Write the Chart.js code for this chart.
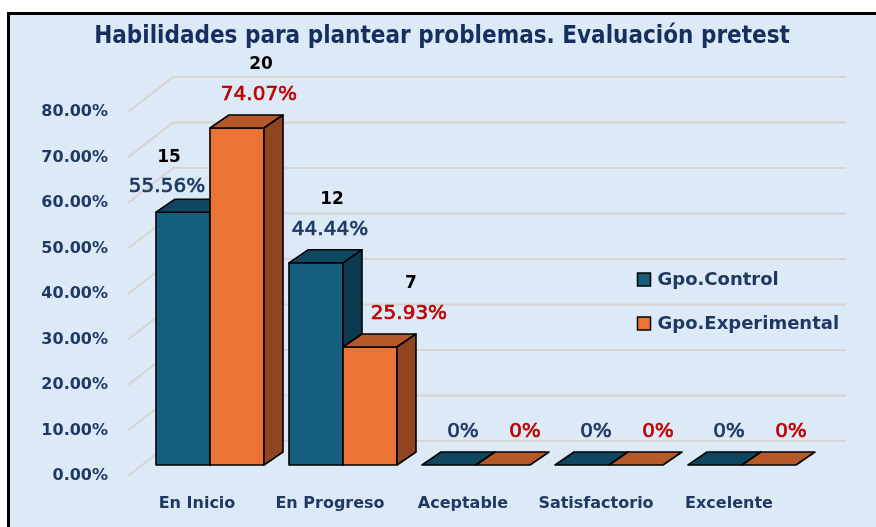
<!DOCTYPE html>
<html>
<head>
<meta charset="utf-8">
<script src="https://cdn.jsdelivr.net/npm/chart.js@4.4.1/dist/chart.umd.min.js"></script>
<style>
  html, body { margin: 0; padding: 0; background: #fff; }
  #wrap { width: 876px; height: 527px; }
</style>
</head>
<body>
<div id="wrap"><canvas id="chart1" width="876" height="527"></canvas></div>
<script>
const ctx1 = document.getElementById('chart1').getContext('2d');

// datos
const categories = ['En Inicio', 'En Progreso', 'Aceptable', 'Satisfactorio', 'Excelente'];
const control_pct = [55.56, 44.44, 0, 0, 0];
const experimental_pct = [74.07, 25.93, 0, 0, 0];
const control_count = [15, 12, 0, 0, 0];
const experimental_count = [20, 7, 0, 0, 0];
const y_ticks = [0, 10, 20, 30, 40, 50, 60, 70, 80];
const title_text = 'Habilidades para plantear problemas. Evaluación pretest';

const NAVY = '#1F3864';
const DX = 19, DY = -13; // profundidad de las barras

const faces = [
  { front: '#165E7E', top: '#0F4760', side: '#0C3A50', text: NAVY },      // control
  { front: '#EB7333', top: '#B5592A', side: '#914520', text: '#C00000' }, // experimental
];

function fmtPct(v) {
  return v === 0 ? '0%' : v.toFixed(2) + '%';
}

function poly(ctx, pts, fill) {
  ctx.beginPath();
  ctx.moveTo(pts[0][0], pts[0][1]);
  for (let i = 1; i < pts.length; i++) ctx.lineTo(pts[i][0], pts[i][1]);
  ctx.closePath();
  ctx.fillStyle = fill;
  ctx.fill();
  ctx.stroke();
}

// fondo, marco y titulo
const framePlugin = {
  id: 'frame',
  beforeDraw(chart) {
    const c = chart.ctx;
    c.save();
    c.fillStyle = '#ffffff';
    c.fillRect(0, 0, chart.width, chart.height);
    c.fillStyle = '#DCE9F6';
    c.fillRect(8, 13, chart.width, chart.height);
    c.fillStyle = '#000000';
    c.fillRect(7, 12, chart.width, 3);
    c.fillRect(7, 12, 3, chart.height);
    c.font = 'bold 24px "Liberation Sans Narrow", "DejaVu Sans Condensed", sans-serif';
    c.fillStyle = '#172F5E';
    c.textAlign = 'center';
    c.textBaseline = 'middle';
    c.fillText(title_text, 442, 37);
    c.restore();
  },
};

// lineas de la pared (3D)
const wallPlugin = {
  id: 'wall',
  beforeDatasetsDraw(chart) {
    const c = chart.ctx, a = chart.chartArea, y = chart.scales.y;
    c.save();
    c.strokeStyle = '#D8D4CF';
    c.lineWidth = 2;
    y_ticks.forEach((v) => {
      const yb = y.getPixelForValue(v);
      c.beginPath();
      c.moveTo(a.left - 15.5, yb + 11);
      c.lineTo(a.left + 29.5, yb - 24);
      c.lineTo(a.right + 37.5, yb - 24);
      c.stroke();
    });
    c.restore();
  },
};

// barras en 3D + etiquetas
const boxPlugin = {
  id: 'box3d',
  afterDatasetsDraw(chart) {
    const c = chart.ctx;
    const metas = [chart.getDatasetMeta(0), chart.getDatasetMeta(1)];
    c.save();
    c.strokeStyle = '#000000';
    c.lineWidth = 1.6;
    c.lineJoin = 'round';
    for (let i = 0; i < categories.length; i++) {
      for (let d = 0; d < 2; d++) {
        const bar = metas[d].data[i];
        const f = faces[d];
        const l = bar.x - bar.width / 2, r = bar.x + bar.width / 2;
        const t = bar.y, b = bar.base;
        if (b - t > 0.5) poly(c, [[l, t], [r, t], [r, b], [l, b]], f.front);
        poly(c, [[l, t], [l + DX, t + DY], [r + DX, t + DY], [r, t]], f.top);
        if (b - t > 0.5) poly(c, [[r, t], [r + DX, t + DY], [r + DX, b + DY], [r, b]], f.side);
      }
    }
    c.restore();

    // etiquetas de datos
    c.save();
    c.textAlign = 'center';
    c.textBaseline = 'middle';
    for (let i = 0; i < categories.length; i++) {
      const vals = [control_pct[i], experimental_pct[i]];
      const counts = [control_count[i], experimental_count[i]];
      for (let d = 0; d < 2; d++) {
        const bar = metas[d].data[i];
        let nx, ny = -33;
        if (d === 0) {
          if (vals[1] > vals[0]) { nx = -16; ny = -25; } else { nx = 14; }
        } else {
          nx = (vals[1] > 0 && vals[1] < vals[0]) ? 39 : 22;
        }
        const cx = bar.x + nx, cy = bar.y + ny;
        c.font = '20px "DejaVu Sans"';
        c.fillStyle = faces[d].text;
        c.strokeStyle = faces[d].text;
        c.lineWidth = 0.7;
        c.fillText(fmtPct(vals[d]), cx, cy);
        c.strokeText(fmtPct(vals[d]), cx, cy);
        if (counts[d] > 0) {
          c.font = 'bold 17px "DejaVu Sans"';
          c.fillStyle = '#000000';
          c.fillText(String(counts[d]), cx + 2, cy - 30);
        }
      }
    }
    c.restore();

    // leyenda
    const a = chart.chartArea;
    c.save();
    c.font = 'bold 18px "DejaVu Sans"';
    c.textAlign = 'left';
    c.textBaseline = 'middle';
    chart.data.datasets.forEach((ds, k) => {
      const lx = a.right - 171, ly = 280 + k * 44;
      c.fillStyle = faces[k].front;
      c.fillRect(lx, ly - 7, 13, 13);
      c.strokeStyle = '#000000';
      c.lineWidth = 1.5;
      c.strokeRect(lx, ly - 7, 13, 13);
      c.fillStyle = NAVY;
      c.fillText(ds.label, lx + 20, ly);
    });
    c.restore();
  },
};

new Chart(ctx1, {
  type: 'bar',
  data: {
    labels: categories,
    datasets: [
      {
        label: 'Gpo.Control',
        data: control_pct,
        backgroundColor: faces[0].front,
        categoryPercentage: 0.812,
        barPercentage: 1.0,
      },
      {
        label: 'Gpo.Experimental',
        data: experimental_pct,
        backgroundColor: faces[1].front,
        categoryPercentage: 0.812,
        barPercentage: 1.0,
      },
    ],
  },
  options: {
    responsive: false,
    animation: false,
    layout: { padding: { left: 8, right: 67.5, top: 101, bottom: 0 } },
    plugins: {
      legend: { display: false },
      tooltip: { enabled: false },
      title: { display: false },
    },
    scales: {
      x: {
        grid: { display: false, drawTicks: false },
        border: { display: false },
        ticks: {
          color: NAVY,
          font: { family: '"DejaVu Sans"', size: 16, weight: 'bold' },
          padding: 29,
          labelOffset: -13,
          maxRotation: 0,
        },
        afterFit(scale) { scale.height = 62; },
      },
      y: {
        min: 0,
        max: 80,
        grid: { display: false, drawTicks: false },
        border: { display: false },
        ticks: {
          stepSize: 10,
          color: NAVY,
          font: { family: '"DejaVu Sans"', size: 16, weight: 'bold' },
          padding: 35.5,
          labelOffset: 11,
          callback: (v) => v.toFixed(2) + '%',
        },
        afterFit(scale) { scale.width = 135.5; },
      },
    },
  },
  plugins: [framePlugin, wallPlugin, boxPlugin],
});
</script>
</body>
</html>
